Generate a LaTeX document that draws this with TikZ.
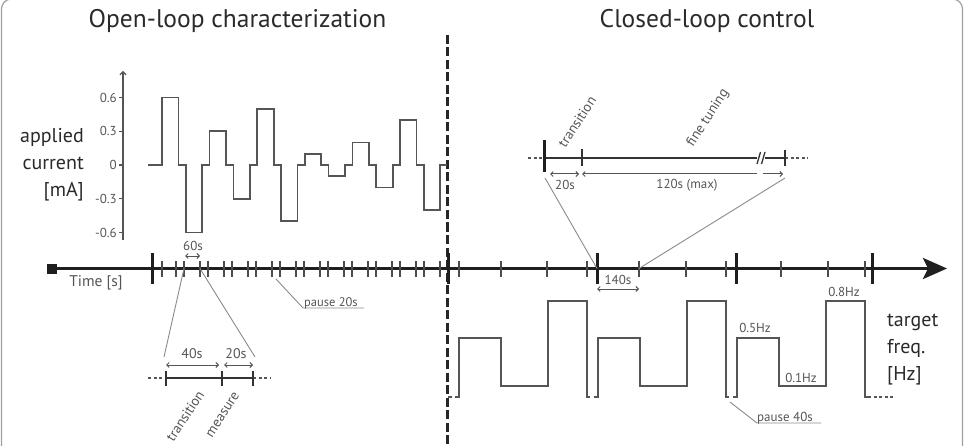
\documentclass[tikz,border=0pt]{standalone}
\usepackage{fontspec}
\setmainfont{PT Sans}
\usetikzlibrary{arrows.meta}
\definecolor{wavecol}{HTML}{555555}
\definecolor{textgray}{HTML}{555555}
\definecolor{darktext}{HTML}{2A2A2A}
\definecolor{leadcol}{HTML}{8A8A8A}
\tikzset{
  wave/.style={draw=wavecol, line width=1.7pt, line join=miter},
  timeaxis/.style={draw=black!88, line width=3pt},
  bigtick/.style={draw=black!88, line width=3pt},
  smalltick/.style={draw=black!70, line width=1.1pt},
  dimarrow/.style={draw=wavecol, line width=1pt, {Straight Barb[length=2.5pt,width=5pt]}-{Straight Barb[length=2.5pt,width=5pt]}},
  lbl/.style={text=textgray, font=\fontsize{13}{15}\selectfont, inner sep=0pt},
  rotlbl/.style={text=textgray, font=\fontsize{14}{16}\selectfont, inner sep=0pt, rotate=57},
  biglbl/.style={text=darktext, font=\fontsize{20}{27}\selectfont, inner sep=0pt},
  titlelbl/.style={text=darktext, font=\fontsize{25.5}{30}\selectfont, inner sep=0pt},
  leader/.style={draw=leadcol, line width=0.9pt},
  insetdash/.style={draw=wavecol, line width=1.3pt, dash pattern=on 3pt off 2.5pt},
  insetline/.style={draw=black!80, line width=1.3pt},
}
\begin{document}
\begin{tikzpicture}[x=1pt,y=-1pt]
\useasboundingbox (0,0) rectangle (965,446);
% frame
\draw[draw=gray!75, line width=1.2pt, rounded corners=10pt] (1.5,470) rectangle (962.5,-1);

% titles
\node[titlelbl] (t1) at (237.5,21) {Open-loop characterization};
\node[titlelbl] (t2) at (707,21) {Closed-loop control};

% separator
\coordinate (sepTop) at (447.5,35);
\coordinate (sepBot) at (447.5,446);
\draw[draw=black!85, line width=2.5pt, dash pattern=on 9pt off 3.5pt] (sepTop) -- (sepBot);

% ===== current axis =====
\coordinate (yaxB) at (123,240);
\coordinate (yaxT) at (123,71);
\draw[draw=wavecol, line width=1.2pt, -{Straight Barb[length=3pt,width=6pt]}] (yaxB) -- (yaxT);
\foreach \v/\n in {0.6/a,0.3/b,0/c,-0.3/d,-0.6/e}{
  \coordinate (yt\n) at (123,{165-112.5*\v});
  \draw[draw=wavecol, line width=1.2pt] (yt\n) -- ++(-4,0);
  \node[lbl, anchor=east] (ytl\n) at ([xshift=-6pt]yt\n) {\v};
}
\node[biglbl, align=right, anchor=east] (ylab) at (84,165) {applied\\current\\{}[mA]};

% current waveform
\draw[wave] (148,165)
  \foreach \a [count=\i from 0] in {0.6,-0.6,0.3,-0.3,0.5,-0.5,0.1,-0.1,0.2,-0.2,0.4,-0.4}{
    -- ({162+23.8*\i},165) -- ({162+23.8*\i},{165-112.5*\a})
    -- ({178.5+23.8*\i},{165-112.5*\a}) -- ({178.5+23.8*\i},165)
  } -- (447,165);

% ===== time axis =====
\node[fill=black!88, minimum size=10pt, inner sep=0pt] (tstart) at (52,268.5) {};
\coordinate (tend) at (947,268.5);
\draw[timeaxis, -{Stealth[length=24pt,width=21pt,inset=5pt]}] (tstart.east) -- (tend);
\node[text=textgray, font=\fontsize{15.5}{18}\selectfont, inner sep=0pt] (tlab) at (96,283) {Time [s]};

% big ticks
\foreach \x [count=\i] in {152,448,597,736,872}{
  \coordinate (B\i) at (\x,268.5);
  \draw[bigtick] (\x,253) -- (\x,284);
}
% small ticks left
\foreach \x in {162,440}{ \draw[smalltick] (\x,261) -- (\x,277); }
\foreach \k in {0,...,10}{
  \coordinate (Sa\k) at ({176+24*\k},268.5);
  \coordinate (Sb\k) at ({184+24*\k},268.5);
  \draw[smalltick] ({176+24*\k},261) -- ({176+24*\k},277);
  \draw[smalltick] ({184+24*\k},261) -- ({184+24*\k},277);
}
% small ticks right
\foreach \x [count=\i] in {459,501,547,587,639,686,726,781,828,865}{
  \coordinate (R\i) at (\x,268.5);
  \draw[smalltick] (\x,261) -- (\x,277);
}

% 60s
\coordinate (s60a) at (185,256);
\coordinate (s60b) at (200,256);
\draw[dimarrow] (s60a) -- (s60b);
\node[lbl] (l60) at (193,246) {60s};

% pause 20s
\coordinate (p20a) at (276,279);
\coordinate (p20b) at (303,308);
\coordinate (p20c) at (364,308);
\draw[leader] (p20a) -- (p20b) -- (p20c);
\node[lbl, font=\fontsize{12.5}{15}\selectfont, anchor=base west] (lp20) at (304,306) {pause 20s};

% ===== lower-left inset =====
\coordinate (iL0) at (148,378);
\coordinate (iL1) at (166,378);
\coordinate (iL2) at (222,378);
\coordinate (iL3) at (253,378);
\coordinate (iL4) at (270,378);
\draw[insetdash] (iL0) -- (iL1);
\draw[insetdash] (iL3) -- (iL4);
\draw[insetline] (iL1) -- (iL3);
\foreach \c in {iL1,iL2,iL3}{ \draw[insetline] ([yshift=-8pt]\c) -- ([yshift=7pt]\c); }
\draw[dimarrow] (166,365) -- (219,365);
\draw[dimarrow] (224,365) -- (253,365);
\node[lbl, font=\fontsize{14}{16}\selectfont] (l40) at (192,354) {40s};
\node[lbl, font=\fontsize{14}{16}\selectfont] (l20a) at (236,354) {20s};
\coordinate (zl1) at (164,357);
\coordinate (zl2) at (255,357);
\draw[leader] (zl1) -- (Sb0);
\draw[leader] (zl2) -- (Sa1);
\node[rotlbl] (ltr1) at (185,416) {transition};
\node[rotlbl] (lme) at (223,415) {measure};

% ===== upper-right inset =====
\coordinate (iU0) at (528,158);
\coordinate (iU1) at (544,158);
\coordinate (iU2) at (582,158);
\coordinate (iU3) at (757,158);
\coordinate (iU4) at (765,158);
\coordinate (iU5) at (785,158);
\coordinate (iU6) at (808,158);
\draw[insetdash] (iU0) -- (iU1);
\draw[insetdash] (iU5) -- (iU6);
\draw[insetline] (iU1) -- (iU3);
\draw[insetline] (iU4) -- (iU5);
\draw[insetline] (757,164) -- (760.5,152);
\draw[insetline] (761.5,164) -- (765,152);
\draw[bigtick] (544,140) -- (544,172);
\draw[insetline] (582,149) -- (582,166);
\draw[insetline] (785,150) -- (785,166);
\draw[dimarrow] (550,174) -- (579,174);
\draw[draw=wavecol, line width=1pt, {Straight Barb[length=2.5pt,width=5pt]}-] (582,174) -- (757,174);
\draw[draw=wavecol, line width=1pt, -{Straight Barb[length=2.5pt,width=5pt]}] (763,174) -- (783,174);
\node[lbl] (l20b) at (565,185) {20s};
\node[lbl] (l120) at (687,185) {120s (max)};
\node[rotlbl] (ltr2) at (577,122) {transition};
\node[rotlbl] (lft) at (708,118) {fine tuning};
\coordinate (zu1) at (545,178);
\coordinate (zu2) at (785,178);
\draw[leader] (zu1) -- (B3);
\draw[leader] (zu2) -- (R5);

% 140s
\draw[dimarrow] (597,289) -- (639,289);
\node[lbl] (l140) at (618,280) {140s};

% ===== closed-loop waveform =====
\draw[wave] (448,397) -- (452,397);
\draw[wave] (455,397) -- (459,397) -- (459,338) -- (501,338) -- (501,386) -- (548,386)
  -- (548,301) -- (587,301) -- (587,397) -- (590,397);
\draw[wave] (594,397) -- (598,397) -- (598,338) -- (640,338) -- (640,386) -- (687,386)
  -- (687,301) -- (726,301) -- (726,397) -- (729,397);
\draw[wave] (733,397) -- (737,397) -- (737,338) -- (779,338) -- (779,386) -- (826,386)
  -- (826,301) -- (865,301) -- (865,397) -- (868,397);
\draw[wave, dash pattern=on 3pt off 2.5pt] (868,397) -- (893,397);

\node[lbl] (l05) at (755,328) {0.5Hz};
\node[lbl] (l01) at (801,378) {0.1Hz};
\node[lbl] (l08) at (844,292) {0.8Hz};

% pause 40s
\coordinate (p40a) at (730,402);
\coordinate (p40b) at (757,423);
\coordinate (p40c) at (821,423);
\draw[leader] (p40a) -- (p40b) -- (p40c);
\node[lbl, anchor=base west] (lp40) at (757,421) {pause 40s};

\node[biglbl, align=left, anchor=west] (flab) at (887,350) {target\\freq.\\{}[Hz]};
\end{tikzpicture}
\end{document}
